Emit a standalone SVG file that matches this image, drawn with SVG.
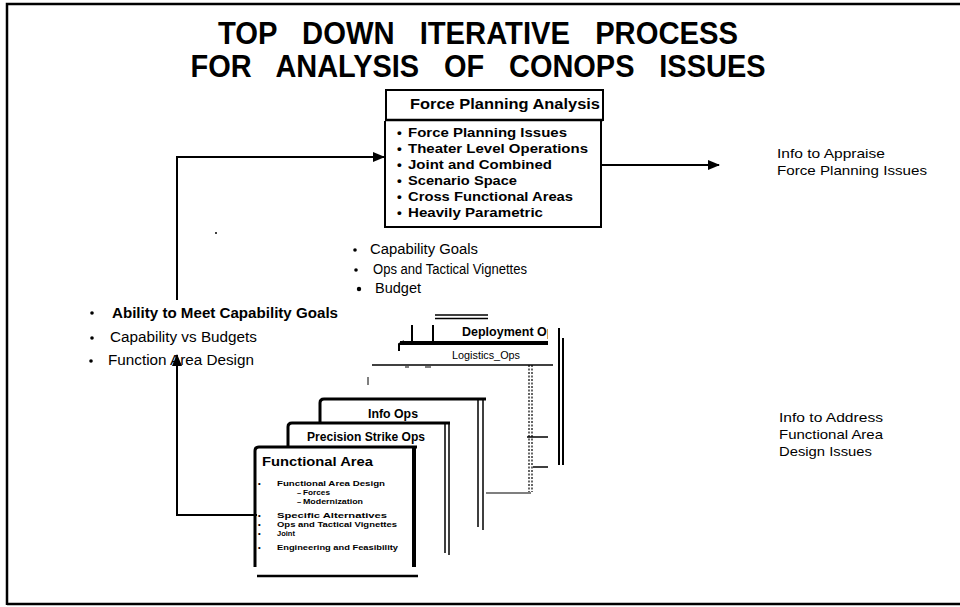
<svg xmlns="http://www.w3.org/2000/svg" width="960" height="607" viewBox="0 0 960 607">
<defs>
<style>
.t{font-family:"Liberation Sans",Arial,sans-serif;fill:#000}
.b{font-weight:bold}
.ln{stroke:#000;fill:none}
</style>
<marker id="ah" viewBox="0 0 12 10" refX="11" refY="5" markerWidth="12" markerHeight="10" markerUnits="userSpaceOnUse" orient="auto">
<path d="M0,0 L12,5 L0,10 Z" fill="#000"/>
</marker>
<clipPath id="depclip"><rect x="380" y="320" width="168" height="30"/></clipPath>
</defs>
<rect x="0" y="0" width="960" height="607" fill="#fff"/>
<path class="ln" d="M7,605 L7,4 L960,4 M7,604 L960,604" stroke-width="2.5"/>

<g id="title">
<text class="t b" x="478" y="44" font-size="31" text-anchor="middle" word-spacing="18" textLength="520" lengthAdjust="spacingAndGlyphs">TOP DOWN ITERATIVE PROCESS</text>
<text class="t b" x="478" y="77" font-size="31" text-anchor="middle" word-spacing="18" textLength="575" lengthAdjust="spacingAndGlyphs">FOR ANALYSIS OF CONOPS ISSUES</text>
</g>

<g id="force-planning">
<rect x="386" y="90" width="217" height="30" fill="#fff" stroke="#000" stroke-width="2"/>
<line class="ln" x1="386" y1="120" x2="603" y2="120" stroke-width="2.5"/>
<path class="ln" d="M385,121 L385,227 L601,227 L601,121" stroke-width="2"/>
<text class="t b" x="410" y="109" font-size="14.5" textLength="190" lengthAdjust="spacingAndGlyphs">Force Planning Analysis</text>
<g class="t b" font-size="13.5">
<text x="397" y="137">•</text><text x="408" y="137" textLength="159" lengthAdjust="spacingAndGlyphs">Force Planning Issues</text>
<text x="397" y="153">•</text><text x="408" y="153" textLength="180" lengthAdjust="spacingAndGlyphs">Theater Level Operations</text>
<text x="397" y="169">•</text><text x="408" y="169" textLength="144" lengthAdjust="spacingAndGlyphs">Joint and Combined</text>
<text x="397" y="185">•</text><text x="408" y="185" textLength="109" lengthAdjust="spacingAndGlyphs">Scenario Space</text>
<text x="397" y="201">•</text><text x="408" y="201" textLength="165" lengthAdjust="spacingAndGlyphs">Cross Functional Areas</text>
<text x="397" y="217">•</text><text x="408" y="217" textLength="135" lengthAdjust="spacingAndGlyphs">Heavily Parametric</text>
</g>
</g>

<g id="info-appraise">
<text class="t" x="777" y="158" font-size="13.5" textLength="108" lengthAdjust="spacingAndGlyphs">Info to Appraise</text>
<text class="t" x="777" y="175" font-size="13.5" textLength="150" lengthAdjust="spacingAndGlyphs">Force Planning Issues</text>
</g>

<g id="left-bullets">
<circle cx="92" cy="313" r="1.8" fill="#000"/>
<text class="t b" x="112" y="318" font-size="14" textLength="226" lengthAdjust="spacingAndGlyphs">Ability to Meet Capability Goals</text>
<circle cx="92" cy="338" r="1.8" fill="#000"/>
<text class="t" x="110" y="342" font-size="14" textLength="147" lengthAdjust="spacingAndGlyphs">Capability vs Budgets</text>
<circle cx="91" cy="361" r="1.8" fill="#000"/>
<text class="t" x="108" y="365" font-size="14" textLength="146" lengthAdjust="spacingAndGlyphs">Function Area Design</text>
</g>

<g id="mid-bullets">
<circle cx="355" cy="250" r="1.8" fill="#000"/>
<text class="t" x="370" y="254" font-size="14" textLength="108" lengthAdjust="spacingAndGlyphs">Capability Goals</text>
<circle cx="356" cy="270" r="1.8" fill="#000"/>
<text class="t" x="373" y="274" font-size="14" textLength="154" lengthAdjust="spacingAndGlyphs">Ops and Tactical Vignettes</text>
<circle cx="359" cy="289" r="2.2" fill="#000"/>
<text class="t" x="375" y="293" font-size="14" textLength="46" lengthAdjust="spacingAndGlyphs">Budget</text>
</g>

<g id="info-address">
<text class="t" x="779" y="422" font-size="13.5" textLength="104" lengthAdjust="spacingAndGlyphs">Info to Address</text>
<text class="t" x="779" y="439" font-size="13.5" textLength="104" lengthAdjust="spacingAndGlyphs">Functional Area</text>
<text class="t" x="779" y="456" font-size="13.5" textLength="93" lengthAdjust="spacingAndGlyphs">Design Issues</text>
</g>

<g id="deployment-ops">
<path class="ln" d="M435,315 L488,315 M435,318.5 L488,318.5" stroke-width="1.5"/>
<path class="ln" d="M412,325 L412,343 M433,325 L433,343 M399,351 L399,344 L404,341" stroke-width="2"/>
<line class="ln" x1="400" y1="343" x2="548" y2="343" stroke-width="4"/>
<text class="t b" x="462" y="336" font-size="12.5" clip-path="url(#depclip)">Deployment Ops</text>
<path class="ln" d="M559,328 L559,465 M563,338 L563,465" stroke-width="2"/>
</g>

<g id="logistics-ops">
<line class="ln" x1="372" y1="365" x2="553" y2="365" stroke-width="1.5"/>
<text class="t" x="452" y="359" font-size="11.5" textLength="68" lengthAdjust="spacingAndGlyphs">Logistics_Ops</text>
<path class="ln" d="M368,377 L368,385 M405,367 L409,367 M425,367 L431,367" stroke-width="1"/>
<path class="ln" d="M529,365 L529,492 M532,365 L532,492" stroke-width="1.2" stroke-dasharray="2 1.5"/>
<path class="ln" d="M486,493 L531,493" stroke-width="1.2"/>
<path class="ln" d="M527,437 L548,437 M533,467 L548,467" stroke-width="1.5"/>
</g>

<g id="info-ops">
<path d="M320,527 L320,403 Q320,399 324,399 L483,399 L483,527 Z" fill="#fff"/>
<path class="ln" d="M320,527 L320,403 Q320,399 324,399 L486,399" stroke-width="3"/>
<path class="ln" d="M478,400 L478,527 M483,400 L483,530" stroke-width="1.5"/>
<text class="t b" x="393" y="418" font-size="12" text-anchor="middle" textLength="50" lengthAdjust="spacingAndGlyphs">Info Ops</text>
</g>

<g id="precision-strike">
<path d="M288,553 L288,427 Q288,423 292,423 L449,423 L449,553 Z" fill="#fff"/>
<path class="ln" d="M288,553 L288,427 Q288,423 292,423 L450,423" stroke-width="3"/>
<path class="ln" d="M445,424 L445,553 M449,424 L449,555" stroke-width="1.5"/>
<text class="t b" x="366" y="441" font-size="12" text-anchor="middle" textLength="118" lengthAdjust="spacingAndGlyphs">Precision Strike Ops</text>
</g>

<g id="functional-area">
<path d="M255,567 L255,451 Q255,447 259,447 L416,447 L416,567 Z" fill="#fff"/>
<path class="ln" d="M255,567 L255,451 Q255,447 259,447 L417,447" stroke-width="3"/>
<path class="ln" d="M414,448 L414,567" stroke-width="4"/>
<line class="ln" x1="257" y1="576" x2="418" y2="576" stroke-width="2.5"/>
<text class="t b" x="262" y="466" font-size="13" textLength="111" lengthAdjust="spacingAndGlyphs">Functional Area</text>
<g class="t b" font-size="7.5">
<text x="258" y="486">•</text><text x="277" y="486" textLength="108" lengthAdjust="spacingAndGlyphs">Functional Area Design</text>
<text x="297" y="495">–</text><text x="303" y="495" textLength="27" lengthAdjust="spacingAndGlyphs">Forces</text>
<text x="297" y="504">–</text><text x="303" y="504" textLength="60" lengthAdjust="spacingAndGlyphs">Modernization</text>
<text x="258" y="518">•</text><text x="277" y="518" textLength="110" lengthAdjust="spacingAndGlyphs">Specific Alternatives</text>
<text x="258" y="527">•</text><text x="277" y="527" textLength="120" lengthAdjust="spacingAndGlyphs">Ops and Tactical Vignettes</text>
<text x="258" y="536">•</text><text x="277" y="536">Joint</text>
<text x="258" y="550">•</text><text x="277" y="550" textLength="121" lengthAdjust="spacingAndGlyphs">Engineering and Feasibility</text>
</g>
</g>

<g id="connectors">
<polyline class="ln" points="177,300 177,157 384,157" stroke-width="2" marker-end="url(#ah)"/>
<line class="ln" x1="601" y1="165" x2="719" y2="165" stroke-width="2" marker-end="url(#ah)"/>
<polyline class="ln" points="257,515 177,515 177,355" stroke-width="2" marker-end="url(#ah)"/>
<circle cx="216" cy="233" r="1" fill="#000"/>
</g>
</svg>
